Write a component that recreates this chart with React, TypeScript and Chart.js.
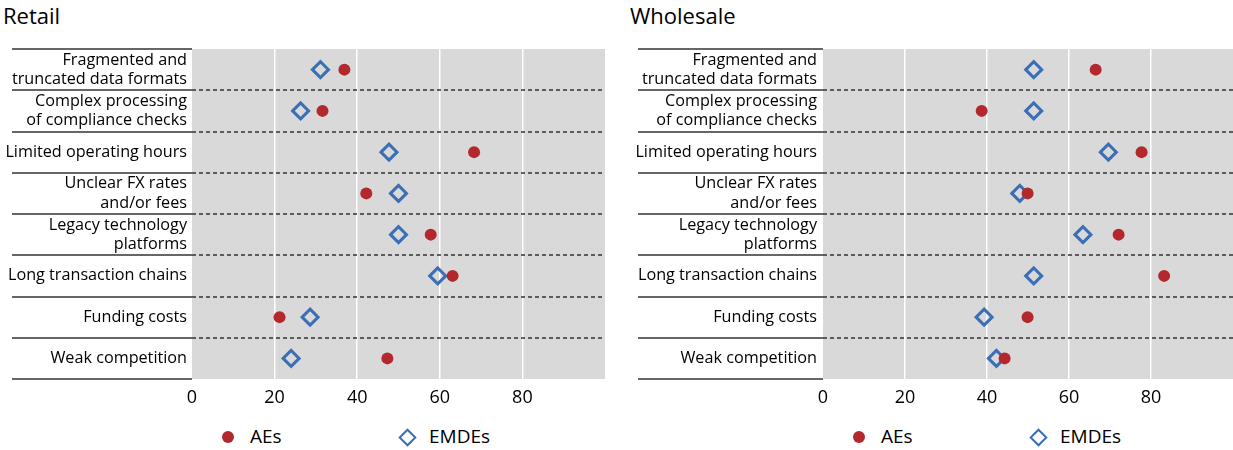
import React, { useEffect, useRef } from 'react';
import { Chart, registerables } from 'chart.js';

Chart.register(...registerables);

const categories: (string | string[])[] = [
  ['Fragmented and', 'truncated data formats'],
  ['Complex processing', 'of compliance checks'],
  'Limited operating hours',
  ['Unclear FX rates', 'and/or fees'],
  ['Legacy technology', 'platforms'],
  'Long transaction chains',
  'Funding costs',
  'Weak competition',
];

const retailAEs = [36.9, 31.6, 68.3, 42.2, 57.8, 63.1, 21.2, 47.3];
const retailEMDEs = [31.1, 26.3, 47.7, 50.0, 50.0, 59.5, 28.6, 24.0];
const wholesaleAEs = [66.5, 38.7, 77.7, 49.9, 72.1, 83.2, 49.9, 44.3];
const wholesaleEMDEs = [51.4, 51.4, 69.6, 48.0, 63.4, 51.4, 39.3, 42.3];

const xMin = 0;
const xMax = 100;
const xStep = 20;
const seriesNames = ['AEs', 'EMDEs'];
const panelTitles = ['Retail', 'Wholesale'];

const RED = '#b2282d';
const BLUE = '#3a6eb5';
const FONT = "'Open Sans', 'Noto Sans', sans-serif";

const bgPlugin = {
  id: 'plotBg',
  beforeDraw(chart: any) {
    const { ctx, chartArea } = chart;
    ctx.save();
    ctx.fillStyle = '#d9d9d9';
    ctx.fillRect(chartArea.left, chartArea.top, chartArea.right - chartArea.left, chartArea.bottom - chartArea.top);
    ctx.restore();
  },
};

const rowLinesPlugin = {
  id: 'rowLines',
  beforeDatasetsDraw(chart: any, _args: any, opts: any) {
    const { ctx, chartArea } = chart;
    const ys = chart.scales.y;
    const n = chart.data.labels.length;
    ctx.save();
    ctx.strokeStyle = '#333333';
    ctx.lineWidth = 1.5;
    for (let i = 0; i <= n; i++) {
      const py = Math.round(ys.getPixelForValue(i - 0.5));
      ctx.setLineDash([]);
      ctx.beginPath();
      ctx.moveTo(opts.labelLeft, py);
      ctx.lineTo(chartArea.left, py);
      ctx.stroke();
      if (i > 0 && i < n) {
        ctx.setLineDash([4, 3]);
        ctx.beginPath();
        ctx.moveTo(chartArea.left, py);
        ctx.lineTo(chartArea.right, py);
        ctx.stroke();
      }
    }
    ctx.restore();
  },
};

type PanelProps = {
  title: string;
  aes: number[];
  emdes: number[];
  left: number;
  width: number;
  yWidth: number;
  padRight: number;
  labelLeft: number;
  labelPad: number;
  titleLeft: number;
};

function Panel(p: PanelProps) {
  const ref = useRef<HTMLCanvasElement | null>(null);
  useEffect(() => {
    if (!ref.current) return;
    const chart = new Chart(ref.current, {
      type: 'line',
      data: {
        labels: categories as any,
        datasets: [
          {
            label: seriesNames[0],
            data: p.aes,
            showLine: false,
            pointStyle: 'circle',
            pointRadius: 6,
            pointHoverRadius: 6,
            pointBackgroundColor: RED,
            pointBorderWidth: 0,
            backgroundColor: RED,
            borderColor: RED,
          },
          {
            label: seriesNames[1],
            data: p.emdes,
            showLine: false,
            pointStyle: 'rectRot',
            pointRadius: 8,
            pointHoverRadius: 8,
            pointBackgroundColor: 'rgba(0,0,0,0)',
            pointBorderColor: BLUE,
            pointBorderWidth: 3,
            backgroundColor: 'rgba(0,0,0,0)',
            borderColor: BLUE,
          },
        ],
      },
      options: {
        indexAxis: 'y',
        responsive: false,
        animation: false,
        devicePixelRatio: 1,
        layout: { autoPadding: false, padding: { top: 49, left: 0, right: p.padRight, bottom: 0 } },
        plugins: {
          legend: { display: false },
          tooltip: { enabled: false },
          title: { display: false },
          rowLines: { labelLeft: p.labelLeft },
        } as any,
        scales: {
          x: {
            type: 'linear',
            min: xMin,
            max: xMax,
            ticks: {
              stepSize: xStep,
              padding: 8,
              color: '#000',
              font: { family: FONT, size: 18 },
              callback: (v: any) => (v === xMax ? '' : String(v)),
              maxRotation: 0,
            },
            grid: {
              color: (c: any) =>
                c.tick && (c.tick.value === xMin || c.tick.value === xMax) ? 'rgba(0,0,0,0)' : '#ffffff',
              lineWidth: 1.5,
              drawTicks: false,
            },
            border: { display: false },
            afterFit: (s: any) => {
              s.height = 35;
              s.paddingLeft = 0;
              s.paddingRight = 0;
            },
          },
          y: {
            type: 'category',
            offset: true,
            ticks: {
              padding: p.labelPad,
              color: '#000',
              font: { family: FONT, size: 16.2, lineHeight: 1.18 },
              autoSkip: false,
            },
            grid: { display: false, drawTicks: false },
            border: { display: false },
            afterFit: (s: any) => {
              s.width = p.yWidth;
            },
          },
        },
      } as any,
      plugins: [bgPlugin, rowLinesPlugin],
    });
    return () => chart.destroy();
  }, []);

  const legendY = 437;
  const textStyle: React.CSSProperties = {
    position: 'absolute',
    top: 424,
    fontFamily: FONT,
    fontSize: 19,
    lineHeight: '24px',
    color: '#000',
    whiteSpace: 'nowrap',
  };
  const cl = p.yWidth;
  return (
    <div style={{ position: 'absolute', left: p.left, top: 0, width: p.width, height: 450 }}>
      <div
        style={{
          position: 'absolute',
          left: p.titleLeft,
          top: 2,
          fontFamily: FONT,
          fontSize: 22,
          lineHeight: '26px',
          color: '#000',
        }}
      >
        {p.title}
      </div>
      <canvas ref={ref} width={p.width} height={414} style={{ position: 'absolute', left: 0, top: 0, width: p.width, height: 414 }} />
      <div
        style={{
          position: 'absolute',
          left: cl + 36 - 6,
          top: legendY - 6,
          width: 12,
          height: 12,
          borderRadius: '50%',
          background: RED,
        }}
      />
      <div style={{ ...textStyle, left: cl + 58 }}>{seriesNames[0]}</div>
      <div
        style={{
          position: 'absolute',
          left: cl + 215 - 6.5,
          top: legendY - 6.5,
          width: 13,
          height: 13,
          boxSizing: 'border-box',
          border: `2.6px solid ${BLUE}`,
          transform: 'rotate(45deg)',
        }}
      />
      <div style={{ ...textStyle, left: cl + 237 }}>{seriesNames[1]}</div>
    </div>
  );
}

export default function App() {
  return (
    <div style={{ position: 'absolute', left: 0, top: 0, width: 1233, height: 450, overflow: 'hidden', background: '#fff' }}>
      <Panel
        title={panelTitles[0]}
        aes={retailAEs}
        emdes={retailEMDEs}
        left={0}
        width={612}
        yWidth={192}
        padRight={7}
        labelLeft={12}
        labelPad={5}
        titleLeft={3}
      />
      <Panel
        title={panelTitles[1]}
        aes={wholesaleAEs}
        emdes={wholesaleEMDEs}
        left={618}
        width={615}
        yWidth={205}
        padRight={0}
        labelLeft={20}
        labelPad={6}
        titleLeft={12}
      />
    </div>
  );
}
